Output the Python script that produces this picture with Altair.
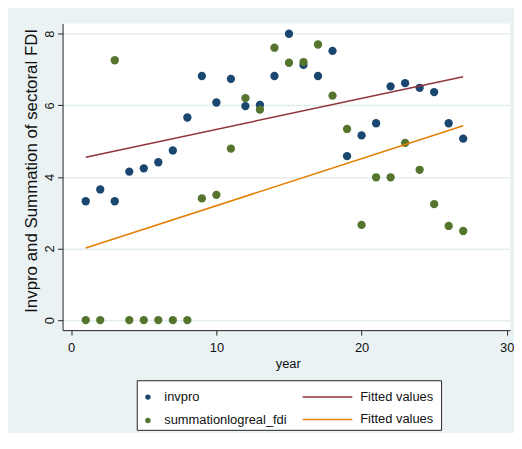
import altair as alt
import pandas as pd

years = [1, 2, 3, 4, 5, 6, 7, 8, 9, 10, 11, 12, 13, 14, 15, 16, 17, 18, 19, 20, 21, 22, 23, 24, 25, 26, 27]
invpro = [3.32, 3.65, 3.32, 4.15, 4.24, 4.41, 4.74, 5.66, 6.82, 6.08, 6.74, 5.98, 6.01, 6.82,
          8.00, 7.13, 6.82, 7.52, 4.58, 5.16, 5.50, 6.53, 6.62, 6.49, 6.37, 5.50, 5.07]
fdi = [0.0, 0.0, 7.26, 0.0, 0.0, 0.0, 0.0, 0.0, 3.40, 3.50, 4.79, 6.20, 5.88, 7.61,
       7.19, 7.21, 7.70, 6.27, 5.34, 2.66, 3.99, 3.99, 4.95, 4.20, 3.24, 2.63, 2.49]

series_names = ["invpro", "summationlogreal_fdi"]
point_colors = ["#1a476f", "#55752f"]
fit_colors = ["#90353b", "#e37e00"]
fit_label = "Fitted values"
x_ticks = [0, 10, 20, 30]
y_ticks = [0, 2, 4, 6, 8]

df = pd.DataFrame({
    "year": years + years,
    "value": invpro + fdi,
    "series": [series_names[0]] * len(years) + [series_names[1]] * len(years),
})

FONT = "Liberation Sans"

x_scale = alt.Scale(domain=[-0.595, 30.226], nice=False, zero=False)
y_scale = alt.Scale(domain=[-0.28, 8.285], nice=False, zero=False)

x_enc = alt.X("year:Q", scale=x_scale,
              axis=alt.Axis(values=x_ticks, title="year", grid=False, tickSize=5,
                            labelPadding=7, titleX=227, titleY=38,
                            titleBaseline="alphabetic", titleAlign="center", format="d"))
y_enc = alt.Y("value:Q", scale=y_scale,
              axis=alt.Axis(values=y_ticks, title="Invpro and Summation of sectoral FDI",
                            grid=True, tickSize=5, labelAngle=270, labelAlign="center",
                            labelBaseline="alphabetic", labelPadding=4,
                            titleAngle=270, titleX=-26, titleY=148, titleAlign="center",
                            titleBaseline="alphabetic", titleFontSize=17, format="d"))

box = alt.Chart(alt.Data(values=[{"k": 1}])).mark_rect(
    fill="white", stroke="#222222", strokeWidth=1
).encode(
    x=alt.value(75.3), x2=alt.value(382), y=alt.value(360), y2=alt.value(410)
)

points = alt.Chart(df).mark_circle(size=70, opacity=1).encode(
    x=x_enc,
    y=y_enc,
    color=alt.Color("series:N",
                    scale=alt.Scale(domain=series_names, range=point_colors),
                    legend=alt.Legend(orient="none", legendX=79.5, legendY=370,
                                      direction="vertical", title=None,
                                      symbolType="circle", symbolSize=30,
                                      labelOffset=10, rowPadding=9.5, padding=0)),
)


def fit_layer(i, legend_y):
    name = series_names[i]
    return alt.Chart(df).transform_filter(
        alt.datum.series == name
    ).transform_regression(
        "year", "value"
    ).transform_calculate(
        fit="'" + name + "'"
    ).mark_line(strokeWidth=1.5).encode(
        x=x_enc,
        y=y_enc,
        stroke=alt.Stroke("fit:N",
                          scale=alt.Scale(domain=[name], range=[fit_colors[i]]),
                          legend=alt.Legend(orient="none", legendX=241, legendY=legend_y,
                                            direction="vertical", title=None,
                                            symbolType="stroke", symbolSize=2500,
                                            symbolStrokeWidth=1.5, labelOffset=7,
                                            padding=0,
                                            labelExpr="'" + fit_label + "'")),
    )


fit1 = fit_layer(0, 350.5)
fit2 = fit_layer(1, 373)

chart = alt.layer(box, points, fit1, fit2).resolve_scale(
    stroke="independent"
).properties(
    width=451,
    height=309,
    autosize=alt.AutoSizeParams(type="none"),
    padding={"left": 55, "top": 14, "right": 4, "bottom": 102},
    background="#eaf2f3",
).configure_view(
    fill="white", strokeWidth=0
).configure_axis(
    labelFont=FONT, titleFont=FONT, labelFontSize=13, titleFontSize=13,
    titleFontWeight="normal", labelColor="#111111", titleColor="#111111",
    domainColor="#222222", tickColor="#222222", gridColor="#e4eef0", gridWidth=1.5,
).configure_legend(
    labelFont=FONT, labelFontSize=13, labelColor="#111111",
)

chart.save("out.html", embed_options={"renderer": "svg", "actions": False})
